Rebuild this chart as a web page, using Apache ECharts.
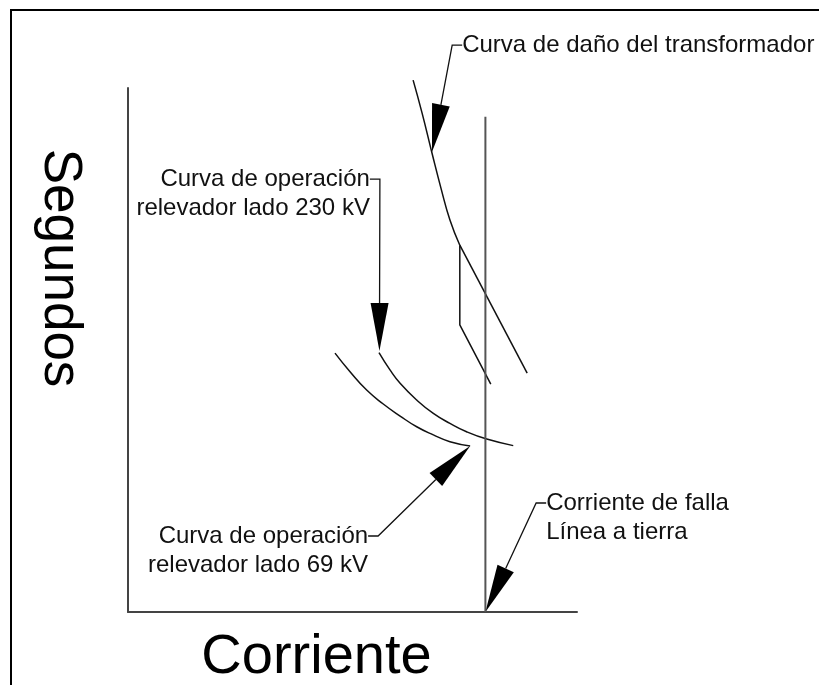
<!DOCTYPE html>
<html>
<head>
<meta charset="utf-8">
<script src="https://cdn.jsdelivr.net/npm/echarts@6/dist/echarts.min.js"></script>
<style>
  html, body { margin: 0; padding: 0; background: #fff; }
  #chart { width: 819px; height: 685px; }
</style>
</head>
<body>
<div id="chart"></div>
<script>
// curves in chart units (x: corriente 0-100, y: segundos 0-100)
const transformerCurve = [[63.5, 101.5], [65.5, 95.2], [67.7, 87.6], [69.7, 80.9], [71.7, 74.8], [73.9, 70.0]];
const transformerSlope = [[73.9, 70.0], [88.9, 45.6]];
const transformerStep = [[73.9, 70.0], [73.9, 54.8], [80.8, 43.5]];
const relay230 = [[55.9, 49.5], [58.35, 46.2], [60.6, 43.65], [64.3, 40.45], [68.0, 37.9],
  [71.7, 36.0], [75.4, 34.4], [79.9, 33.0], [85.8, 31.75]];
const relay69 = [[46.1, 49.4], [49.45, 45.85], [53.15, 42.35], [56.85, 39.7], [60.6, 37.4],
  [64.3, 35.35], [68.0, 33.8], [71.7, 32.5], [76.2, 31.7]];
const faultLine = [[79.6, 0], [79.6, 94.5]];

// callouts: arrow tip on the curve, elbow of the leader
const calloutText = [
  'Curva de daño del transformador',
  'Curva de operación\nrelevador lado 230 kV',
  'Curva de operación\nrelevador lado 69 kV',
  'Corriente de falla\nLínea a tierra'
];
const calloutTip = [[67.7, 87.8], [56.0, 49.8], [76.2, 31.7], [79.6, 0]];
const calloutElbow = [[72.2, 108.2], [56.1, 82.6], [55.7, 14.5], [90.9, 20.8]];

const FONT = '"Liberation Sans", Arial, sans-serif';
const calloutSide = [1, -1, -1, 1];

function renderCallout(params, api) {
  const i = params.dataIndex;
  const tip = api.coord([api.value(0), api.value(1)]);
  const elbow = api.coord([api.value(2), api.value(3)]);
  const dir = calloutSide[i];
  const dx = elbow[0] - tip[0], dy = elbow[1] - tip[1];
  const len = Math.hypot(dx, dy);
  const ux = dx / len, uy = dy / len;
  const base = [tip[0] + ux * 48, tip[1] + uy * 48];
  const nx = -uy * 9, ny = ux * 9;
  const stub = [elbow[0] + dir * 10, elbow[1]];
  return {
    type: 'group',
    children: [
      {
        type: 'polygon',
        shape: { points: [tip, [base[0] + nx, base[1] + ny], [base[0] - nx, base[1] - ny]] },
        style: { fill: '#000' }
      },
      {
        type: 'polyline',
        shape: { points: [base, elbow, stub] },
        style: { stroke: '#111', lineWidth: 1.3, fill: null }
      },
      {
        type: 'text',
        style: {
          x: stub[0], y: elbow[1] - 14.5,
          text: calloutText[i],
          fill: '#111',
          font: '24px ' + FONT,
          align: dir > 0 ? 'left' : 'right',
          verticalAlign: 'top',
          lineHeight: 29
        }
      }
    ]
  };
}

const curveLine = (data, smooth) => ({
  type: 'line',
  data: data,
  smooth: smooth,
  symbol: 'none',
  clip: false,
  lineStyle: { color: '#111', width: 1.5 }
});

const chart = echarts.init(document.getElementById('chart'));
chart.setOption({
  animation: false,
  backgroundColor: '#fff',
  graphic: [{
    type: 'rect', z: -10,
    shape: { x: 11, y: 10, width: 1000, height: 1000 },
    style: { fill: 'none', stroke: '#000', lineWidth: 2 }
  }],
  grid: { left: 128, right: 242, top: 88, bottom: 73, outerBoundsMode: 'none' },
  xAxis: {
    type: 'value', min: 0, max: 100,
    name: 'Corriente', nameLocation: 'middle', nameGap: 18,
    nameTextStyle: { fontSize: 56, color: '#000', fontFamily: FONT, padding: [0, 72, 0, 0] },
    axisLine: { lineStyle: { color: '#444', width: 2 } },
    axisTick: { show: false }, axisLabel: { show: false }, splitLine: { show: false }
  },
  yAxis: {
    type: 'value', min: 0, max: 100,
    name: 'Segundos', nameLocation: 'middle', nameGap: 42, nameRotate: -90,
    nameTextStyle: { fontSize: 53, color: '#000', fontFamily: FONT, padding: [0, 164, 0, 0] },
    axisLine: { show: true, lineStyle: { color: '#444', width: 2 } },
    axisTick: { show: false }, axisLabel: { show: false }, splitLine: { show: false }
  },
  series: [
    curveLine(transformerCurve, true),
    curveLine(transformerSlope, false),
    curveLine(transformerStep, false),
    curveLine(relay230, true),
    curveLine(relay69, true),
    {
      type: 'line', data: faultLine, symbol: 'none',
      lineStyle: { color: '#555', width: 2 }
    },
    {
      type: 'custom',
      coordinateSystem: 'cartesian2d',
      clip: false,
      renderItem: renderCallout,
      data: calloutTip.map((t, i) => [t[0], t[1], calloutElbow[i][0], calloutElbow[i][1]])
    }
  ]
});
</script>
</body>
</html>
